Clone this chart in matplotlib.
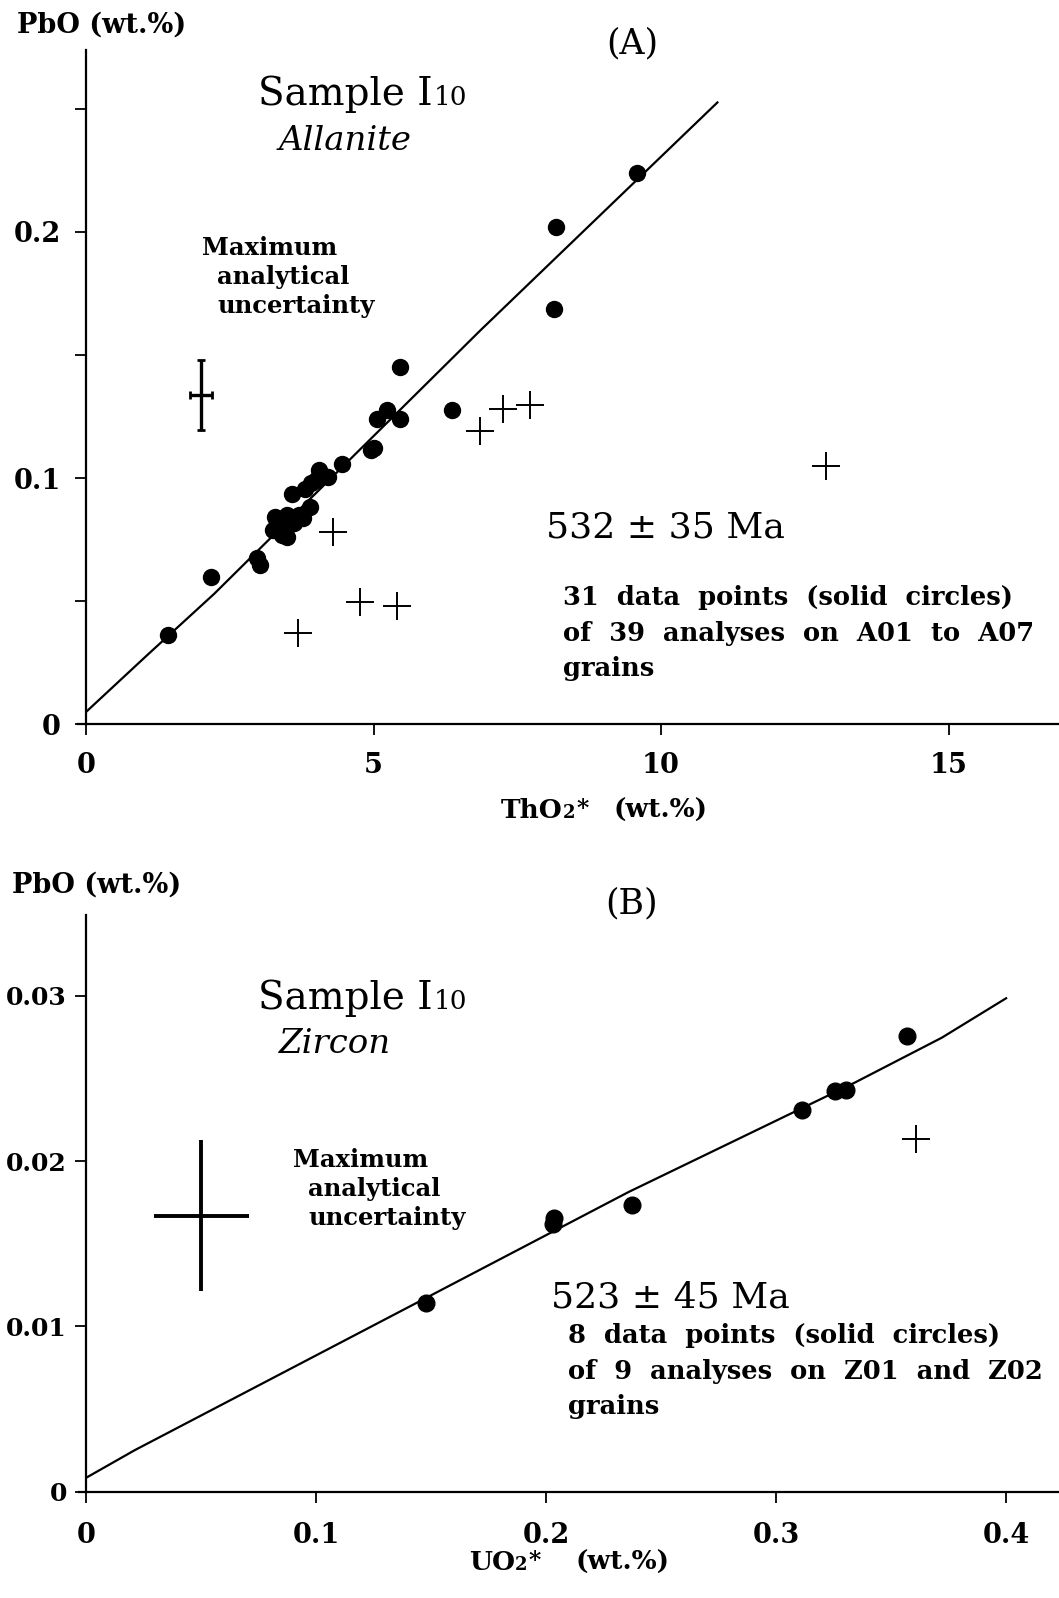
import matplotlib
matplotlib.use('Agg')
import matplotlib.pyplot as plt

W, H = 1059, 1598
plt.rcParams['font.family'] = ['DejaVu Serif']

# ---------------- data: panel A (allanite) ----------------
a_circ_x = [1.43, 2.17, 2.97, 3.03, 3.26, 3.29, 3.49, 3.49, 3.61, 3.78, 3.90, 3.59,
            3.91, 3.80, 4.06, 4.21, 4.45, 5.00, 4.95, 5.06, 5.23, 5.46, 5.46, 6.36,
            8.14, 8.18, 9.58, 3.38, 3.70, 3.40, 4.00]
a_circ_y = [0.0363, 0.0597, 0.0674, 0.0647, 0.0789, 0.0843, 0.0850, 0.0762, 0.0816,
            0.0836, 0.0883, 0.0934, 0.0978, 0.0955, 0.1033, 0.1005, 0.1057, 0.1121,
            0.1115, 0.1238, 0.1276, 0.1238, 0.1452, 0.1276, 0.1687, 0.2018, 0.2237,
            0.0800, 0.0850, 0.0770, 0.0990]
a_cross_x = [4.29, 3.69, 4.77, 5.40, 6.85, 7.26, 7.72, 12.86]
a_cross_y = [0.0780, 0.0372, 0.0498, 0.0480, 0.1192, 0.1279, 0.1296, 0.1050]
a_line_x = [0.0, 1.06, 2.23, 6.86, 10.98]
a_line_y = [0.005, 0.028, 0.053, 0.160, 0.2525]
a_err_x, a_err_y, a_err_dx, a_err_dy = 2.0, 0.1337, 0.19, 0.0144
a_xticks = [0, 5, 10, 15]
a_xticklabels = ['0', '5', '10', '15']
a_yticks = [0, 0.05, 0.10, 0.15, 0.20, 0.25]
a_yticklabels = ['0', '', '0.1', '', '0.2', '']

# ---------------- data: panel B (zircon) ----------------
b_circ_x = [0.1477, 0.2033, 0.2030, 0.2375, 0.3112, 0.3256, 0.3303, 0.3570]
b_circ_y = [0.01139, 0.01656, 0.01620, 0.01732, 0.02312, 0.02423, 0.02429, 0.02760]
b_cross_x = [0.361]
b_cross_y = [0.02134]
b_line_x = [0.0, 0.021, 0.1476, 0.2358, 0.334, 0.372, 0.400]
b_line_y = [0.00084, 0.0025, 0.01171, 0.01813, 0.02474, 0.02747, 0.02986]
b_err_x, b_err_y, b_err_dx, b_err_dy = 0.050, 0.0167, 0.0208, 0.00457
b_xticks = [0, 0.1, 0.2, 0.3, 0.4]
b_xticklabels = ['0', '0.1', '0.2', '0.3', '0.4']
b_yticks = [0, 0.01, 0.02, 0.03]
b_yticklabels = ['0', '0.01', '0.02', '0.03']

fig = plt.figure(figsize=(W / 100, H / 100), dpi=100)


def fx(x):
    return x / W


def fy(y):
    return 1 - y / H


def setup(ax, xlim, ylim, xt, xtl, yt, ytl, xpad, ypad, ysize):
    ax.set_xlim(*xlim)
    ax.set_ylim(*ylim)
    for s in ('top', 'right'):
        ax.spines[s].set_visible(False)
    for s in ('left', 'bottom'):
        ax.spines[s].set_linewidth(1.6)
    ax.spines['bottom'].set_bounds(xlim[0] - (xlim[1] - xlim[0]) * 0.008, xlim[1])
    ax.set_xticks(xt)
    ax.set_xticklabels(xtl)
    ax.set_yticks(yt)
    ax.set_yticklabels(ytl)
    ax.tick_params(axis='both', direction='out', length=8, width=1.3)
    ax.tick_params(axis='x', pad=xpad, labelsize=19.5)
    ax.tick_params(axis='y', pad=ypad, labelsize=ysize)
    for lab in ax.get_xticklabels() + ax.get_yticklabels():
        lab.set_fontweight('bold')
    ax.patch.set_alpha(0)


# Panel A axes
axA = fig.add_axes([fx(86), fy(724.3), 1 - fx(86), fy(50) - fy(724.3)])
setup(axA, (0, 16.92), (0, 0.2738), a_xticks, a_xticklabels,
      a_yticks, a_yticklabels, 12, 10, 19.5)
axA.spines['bottom'].set_clip_on(False)
axA.plot(a_line_x, a_line_y, color='black', lw=1.6)
axA.plot(a_circ_x, a_circ_y, 'o', color='black', ms=11.5)
axA.plot(a_cross_x, a_cross_y, '+', color='black', ms=20, mew=1.4)
axA.errorbar(a_err_x, a_err_y, xerr=a_err_dx, yerr=a_err_dy, fmt='none',
             ecolor='black', elinewidth=2.4, capsize=3, capthick=2)

# Panel B axes
axB = fig.add_axes([fx(86.4), fy(1491.5), 1 - fx(86.4), fy(915) - fy(1491.5)])
setup(axB, (0, 0.423), (0, 0.0349), b_xticks, b_xticklabels,
      b_yticks, b_yticklabels, 14, 6, 18)
axB.spines['bottom'].set_clip_on(False)
axB.plot(b_line_x, b_line_y, color='black', lw=1.6)
axB.plot(b_circ_x, b_circ_y, 'o', color='black', ms=12)
axB.plot(b_cross_x, b_cross_y, '+', color='black', ms=20, mew=1.4)
axB.errorbar(b_err_x, b_err_y, xerr=b_err_dx, yerr=b_err_dy, fmt='none',
             ecolor='black', elinewidth=2.8, capsize=0)

renderer = fig.canvas.get_renderer()


def txt(x, y, s, size, **kw):
    return fig.text(fx(x), fy(y), s, fontsize=size, ha=kw.pop('ha', 'left'),
                    va='baseline', **kw)


def seq(x, y, pieces):
    cur = x
    for s, size, dy, gap, kw in pieces:
        cur += gap
        t = fig.text(fx(cur), fy(y - dy), s, fontsize=size, ha='left',
                     va='baseline', **kw)
        cur = t.get_window_extent(renderer).x1


B = dict(fontweight='bold')

for (ylab_x, ylab_y, letter, title_y, sub, sub_y, mx, my, age, ax_, ay_,
     lines, lx, ly, xl, xlx, xl2x, xly) in [
        (17, 33, '(A)', 105, 'Allanite', 150, 202, 255, '532 \u00b1 35 Ma', 546, 537,
         ['31  data  points  (solid  circles)', 'of  39  analyses  on  A01  to  A07',
          'grains'],
         563, 605, 'ThO', 501, 614, 818),
        (12, 893, '(B)', 1009, 'Zircon', 1053, 293, 1167, '523 \u00b1 45 Ma', 551, 1308,
         ['8  data  points  (solid  circles)', 'of  9  analyses  on  Z01  and  Z02',
          'grains'],
         568, 1343, 'UO', 469, 576, 1570)]:
    # y-axis label
    txt(ylab_x, ylab_y, 'PbO (wt.%)', 19.5, **B)
    # panel letter
    txt(632, ylab_y + 20, letter, 25, ha='center')
    # sample title
    seq(258, title_y, [('Sample I', 28, 0, 0, {}), ('10', 19, 0, 1, {})])
    txt(279, sub_y, sub, 24.5, style='italic')
    # uncertainty legend
    txt(mx, my, 'Maximum', 17.5, **B)
    txt(mx + 15, my + 29, 'analytical', 17.5, **B)
    txt(mx + 15, my + 58, 'uncertainty', 17.5, **B)
    # age
    txt(ax_, ay_, age, 26)
    for i, l in enumerate(lines):
        txt(lx, ly + i * 35.5, l, 18.5, **B)
    # x-axis label
    seq(xlx, xly, [(xl, 19, 0, 0, B), ('2', 13, 0, 0, B), ('*', 17, 2, 1, B)])
    txt(xl2x, xly, '(wt.%)', 19, **B)

fig.savefig('out.png', dpi=100)
